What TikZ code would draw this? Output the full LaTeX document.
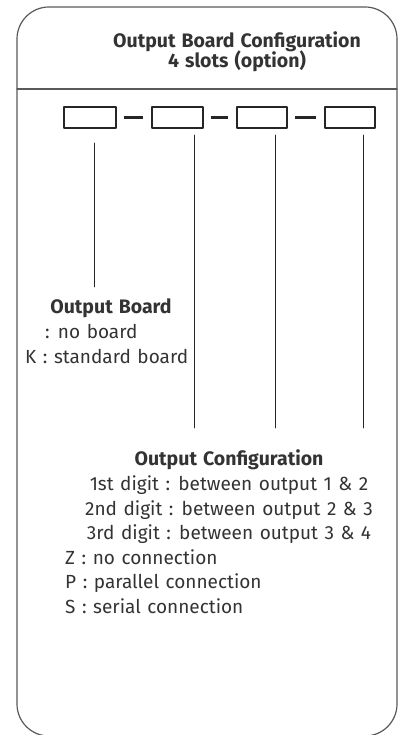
\documentclass[tikz,border=0pt]{standalone}
\usepackage{fontspec}
\setmainfont{Fira Sans}[WordSpace=1.3]
\begin{document}
\begin{tikzpicture}[x=1pt, y=-1pt, line join=round, line cap=round,
	slotbox/.style={draw=black!85, line width=2pt, minimum height=21pt, inner sep=0pt},
	txt/.style={text=black!80, inner sep=0pt, font=\fontsize{19}{23}\selectfont},
	hd/.style={txt, font=\fontsize{19.5}{23}\selectfont\bfseries}]
	\useasboundingbox (0,0) rectangle (403,735);
	\draw[black!65, line width=1.2pt, rounded corners=32pt] (17,7) rectangle (397,736);
	\coordinate (L) at (17,89);
	\coordinate (R) at (397,89);
	\draw[black!65, line width=1.2pt] (L)--(R);
	\node[hd, anchor=base] (title) at (237,48) {Output Board Configuration};
	\node[hd, anchor=base] (slots) at (237,68) {4 slots (option)};
	\foreach \n/\x/\w in {1/90/52, 2/177.5/51, 3/262/50, 4/350/50}
		\node[slotbox, minimum width=\w pt] (s\n) at (\x,117.5) {};
	\foreach \a/\b in {1/2, 2/3, 3/4}
		\draw[black!85, line width=2.2pt, line cap=butt, shorten <=7pt, shorten >=8pt] (s\a.east)--(s\b.west);
	\coordinate (T1) at (94,143);
	\coordinate (B1) at (94,287);
	\coordinate (T2) at (194,135);
	\coordinate (B2) at (194,428);
	\coordinate (T3) at (275,135);
	\coordinate (B3) at (275,428);
	\coordinate (T4) at (363,135);
	\coordinate (B4) at (363,428);
	\foreach \n in {1,2,3,4} \draw[black!85, line width=0.8pt] (T\n)--(B\n);
	\node[hd, anchor=base] (board) at (111,313) {Output Board};
	\node[txt, anchor=base west] (noboard) at (45,338) {: no board};
	\node[txt, anchor=base west] (kboard) at (25,363) {K : standard board};
	\node[hd, anchor=base] (config) at (229,465) {Output Configuration};
	\node[txt, anchor=base] (dig1) at (229,490) {1st digit : between output 1 \& 2};
	\node[txt, anchor=base] (dig2) at (229,515) {2nd digit : between output 2 \& 3};
	\node[txt, anchor=base] (dig3) at (229,539) {3rd digit : between output 3 \& 4};
	\node[txt, anchor=base west] (cz) at (65,564) {Z : no connection};
	\node[txt, anchor=base west] (cp) at (65,588) {P : parallel connection};
	\node[txt, anchor=base west] (cs) at (65,613) {S : serial connection};
\end{tikzpicture}
\end{document}
